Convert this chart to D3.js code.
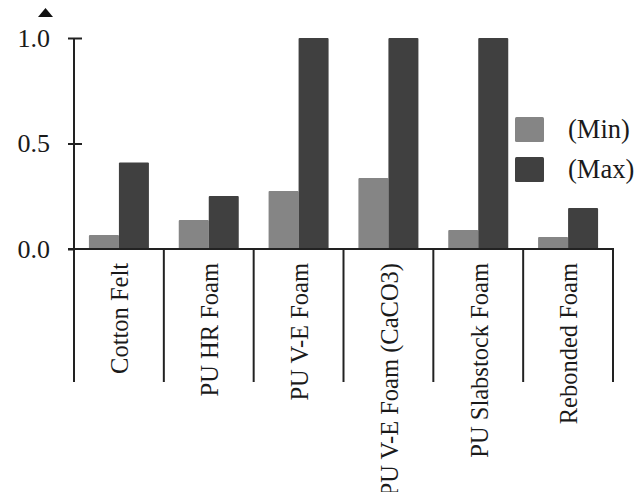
<!DOCTYPE html>
<html>
<head>
<meta charset="utf-8">
<script src="https://cdn.jsdelivr.net/npm/d3@7"></script>
<style>
  body { margin: 0; background: #fff; }
  text { font-family: "Liberation Serif", "Times New Roman", serif; fill: #1a1a1a; }
</style>
</head>
<body>
<div id="chart"></div>
<script>
// values
const categories = ["Cotton Felt", "PU HR Foam", "PU V-E Foam", "PU V-E Foam (CaCO3)", "PU Slabstock Foam", "Rebonded Foam"];
const minValues = [0.066, 0.137, 0.275, 0.336, 0.09, 0.057];
const maxValues = [0.41, 0.251, 1.0, 1.0, 1.0, 0.194];
const seriesNames = ["(Min)", "(Max)"];
const yTicks = [0, 0.5, 1.0];

const width = 637, height = 492;
const colors = ["#858585", "#404040"];

const svg = d3.select("#chart").append("svg")
  .attr("width", width)
  .attr("height", height);

const x = d3.scaleBand()
  .domain(categories)
  .range([74, 613]);

const y = d3.scaleLinear()
  .domain([0, 1])
  .range([249, 38]);

const groupW = 60;
const sub = d3.scaleBand()
  .domain([0, 1])
  .range([0, groupW]);

// bars
const rows = categories.map((c, i) => ({c: c, vals: [minValues[i], maxValues[i]]}));
const groups = svg.selectAll("g.grp").data(rows)
  .enter().append("g")
    .attr("class", "grp")
    .attr("transform", d => "translate(" + (x(d.c) + (x.bandwidth() - groupW) / 2) + ",0)");

groups.selectAll("rect").data(d => d.vals)
  .enter().append("rect")
    .attr("x", (d, k) => sub(k))
    .attr("y", d => y(d))
    .attr("width", sub.bandwidth())
    .attr("height", d => y(0) - y(d))
    .attr("rx", 1)
    .style("fill", (d, k) => colors[k]);

// y axis
const yAxis = svg.append("g")
  .attr("transform", "translate(74,0)")
  .call(d3.axisLeft(y).tickValues(yTicks).tickFormat(d3.format(".1f")).tickSize(6).tickPadding(18));
yAxis.select(".domain").attr("d", "M0," + y(1) + "V" + 382).attr("stroke", "#222").attr("stroke-width", 2);
yAxis.selectAll(".tick line").attr("x1", -6).attr("x2", d => d === 0 ? 0 : 8).attr("stroke", "#222").attr("stroke-width", 2);
yAxis.selectAll(".tick text").style("font-size", "26px").style("font-family", "Liberation Serif").attr("fill", "#1a1a1a");

// arrow head above axis
svg.append("path")
  .attr("d", "M45.5,8L53,17L38,17Z")
  .attr("fill", "#111");

// x axis baseline + dividers
svg.append("line")
  .attr("x1", 68).attr("x2", 614)
  .attr("y1", y(0)).attr("y2", y(0))
  .attr("stroke", "#222").attr("stroke-width", 2);

const bounds = categories.map(c => x(c) + x.bandwidth()).concat([x(categories[0])]);
svg.selectAll("line.div").data(bounds)
  .enter().append("line")
    .attr("class", "div")
    .attr("x1", d => d).attr("x2", d => d)
    .attr("y1", y(0)).attr("y2", 382)
    .attr("stroke", "#222").attr("stroke-width", 2);

// category labels, rotated
svg.selectAll("text.cat").data(categories)
  .enter().append("text")
    .attr("class", "cat")
    .attr("transform", d => "translate(" + (x(d) + x.bandwidth() / 2 + 1) + ",263) rotate(-90)")
    .attr("text-anchor", "end")
    .attr("dy", "0.34em")
    .style("font-size", "24.5px")
    .text(d => d);

// legend
const legend = svg.selectAll("g.leg").data(seriesNames)
  .enter().append("g")
    .attr("class", "leg")
    .attr("transform", (d, i) => "translate(515," + (117 + i * 40) + ")");
legend.append("rect")
  .attr("width", 29).attr("height", 25).attr("rx", 1.5)
  .style("fill", (d, i) => colors[i]);
legend.append("text")
  .attr("x", 53).attr("y", 21)
  .style("font-size", "26.5px")
  .text(d => d);
</script>
</body>
</html>
